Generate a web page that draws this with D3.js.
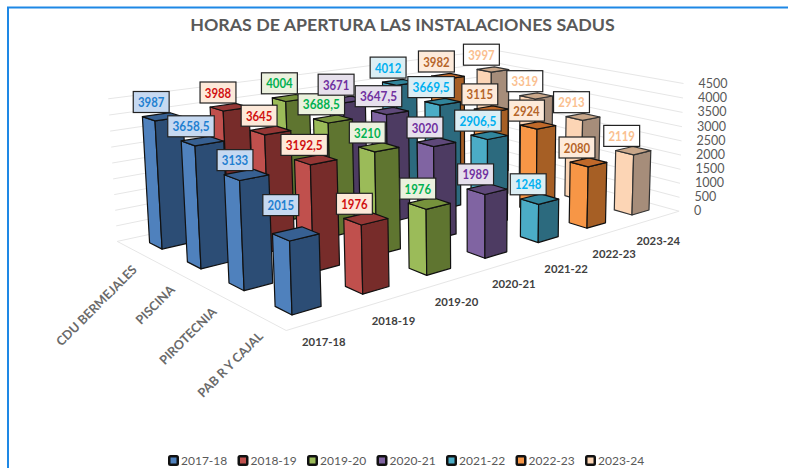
<!DOCTYPE html>
<html><head><meta charset="utf-8">
<script src="https://cdn.jsdelivr.net/npm/d3@7"></script>
<style>html,body{margin:0;padding:0;background:#fff}svg{display:block}text{font-family:Lato,"Open Sans",sans-serif}</style>
</head><body><svg id="c" width="788" height="468"></svg>
<script>
const title = "HORAS DE APERTURA LAS INSTALACIONES SADUS";
const seasons = ["2017-18","2018-19","2019-20","2020-21","2021-22","2022-23","2023-24"];
const venues = ["CDU BERMEJALES","PISCINA","PIROTECNIA","PAB R Y CAJAL"];
const v2017 = [3987,3658.5,3133,2015];
const v2018 = [3988,3645,3192.5,1976];
const v2019 = [4004,3688.5,3210,1976];
const v2020 = [3671,3647.5,3020,1989];
const v2021 = [4012,3669.5,2906.5,1248];
const v2022 = [3982,3115,2924,2080];
const v2023 = [3997,3319,2913,2119];
const seriesValues = [v2017,v2018,v2019,v2020,v2021,v2022,v2023];
const axisTicks = [0,500,1000,1500,2000,2500,3000,3500,4000,4500];

const leftFace  = ["#4f81bd","#c0504d","#9bbb59","#8064a2","#4bacc6","#f79646","#fcd5b5"];
const rightFace = ["#2c4d75","#772c2a","#5f7530","#4d3b62","#2c6a7e","#a65f25","#a68d7a"];
const topFace   = ["#376092","#953735","#76923c","#5f497a","#31859c","#c0692a","#c9a78a"];
const labelText = ["#1f7fd0","#d01010","#00b050","#7030a0","#00b0f0","#b5652a","#fac090"];
const labelFill = ["#c6d9f1","#fde9d9","#ebf1de","#e6e0ec","#dbeef4","#fdeada","#ffffff"];
const edgeColor = ["#111","#111","#111","#111","#111","#111","#333"];

// scales into floor/height units
const sx = d3.scalePoint().domain(seasons).range([0,6]);
const qx = d3.scalePoint().domain(venues).range([3,0]);
const zx = d3.scaleLinear().domain([0,1]).range([0,-6.38e-6]);
const barW = 0.4, barD = 0.34, sMin=-0.3, sMax=6.7, qMin=-0.33, qMax=3.67;

// perspective camera
const O=[292,315], Vs=[1721.8,-105.5], Vq=[-617,-146], Vz=[480,6000];
const as=0.052, aq=0.0556;
function P(s,q,val){
  const bs=s*as, bq=q*aq, bz=zx(val);
  const w=1+bs+bq+bz;
  return [(O[0]+bs*Vs[0]+bq*Vq[0]+bz*Vz[0])/w,(O[1]+bs*Vs[1]+bq*Vq[1]+bz*Vz[1])/w];
}
const svg=d3.select("#c");
const poly=pts=>pts.map(p=>p.map(n=>n.toFixed(1)).join(",")).join(" ");

// frame (open on the right and bottom)
svg.append("path").attr("d","M8,468V7.5H788").attr("fill","none").attr("stroke","#1e88e5").attr("stroke-width",2);

svg.append("text").attr("x",402.5).attr("y",31).attr("text-anchor","middle").attr("font-size",17.8).attr("font-weight",700).attr("fill","#595959").text(title);

// walls + floor
const grid=svg.append("g").attr("fill","none").attr("stroke","#e6e6e6").attr("stroke-width",1);
axisTicks.forEach(t=>{
  grid.append("polyline").attr("points",poly([P(sMin,qMax,t),P(sMax,qMax,t),P(sMax,qMin,t)]));
});
grid.append("polyline").attr("points",poly([P(sMin,qMax,0),P(sMin,qMin,0),P(sMax,qMin,0)]));

// axis labels
axisTicks.forEach(t=>{
  const p=P(sMax,qMin,t);
  svg.append("text").attr("x",p[0]+15).attr("y",p[1]+4).attr("font-size",12.5).attr("fill","#595959").text(t);
});

// bars back to front
const cells=[];
seasons.forEach((se,i)=>venues.forEach((ve,j)=>cells.push({se,ve,i,v:seriesValues[i][j]})));
cells.sort((a,b)=>(sx(b.se)+qx(b.ve))-(sx(a.se)+qx(a.ve)));
const bars=svg.append("g").attr("stroke-linejoin","round").attr("stroke-width",1.2);
cells.forEach(d=>{
  const s=sx(d.se), q=qx(d.ve), v=d.v;
  const g=bars.append("g").attr("stroke",edgeColor[d.i]);
  g.append("polygon").attr("fill",leftFace[d.i]).attr("points",poly([P(s,q,0),P(s,q+barD,0),P(s,q+barD,v),P(s,q,v)]));
  g.append("polygon").attr("fill",rightFace[d.i]).attr("points",poly([P(s,q,0),P(s+barW,q,0),P(s+barW,q,v),P(s,q,v)]));
  g.append("polygon").attr("fill",topFace[d.i]).attr("points",poly([P(s,q,v),P(s+barW,q,v),P(s+barW,q+barD,v),P(s,q+barD,v)]));
});

// value labels
const fmt=v=>String(v).replace(".",",");
const lab=svg.append("g");
seasons.forEach((se,i)=>venues.forEach((ve,j)=>{
  const v=seriesValues[i][j];
  const c=P(sx(se)+barW/2,qx(ve)+barD/2,v);
  const raised = i===0 && j===3;          // this one label sits higher in the chart
  const dx = raised ? -15 : -11.5, dy = raised ? -28.7 : -14.7;
  const g=lab.append("g").attr("transform",`translate(${(c[0]+dx).toFixed(1)},${(c[1]+dy).toFixed(1)})`);
  const s=fmt(v);
  const len=s.replace(",","").length*6.6+(s.includes(",")?4:0);
  const w=len+9.5;
  g.append("rect").attr("x",-w/2).attr("y",-10.5).attr("width",w).attr("height",21).attr("fill",labelFill[i]).attr("stroke","#222").attr("stroke-width",1.2);
  g.append("text").attr("text-anchor","middle").attr("y",5).attr("font-size",14).attr("font-weight",700).attr("fill",labelText[i]).attr("textLength",len).attr("lengthAdjust","spacingAndGlyphs").text(s);
}));

// season labels
seasons.forEach(se=>{
  const p=P(sx(se)+barW/2,qMin,0);
  svg.append("text").attr("x",p[0]).attr("y",p[1]+27).attr("text-anchor","middle").attr("font-size",11.3).attr("font-weight",700).attr("fill","#404040").text(se);
});
// venue labels
venues.forEach(ve=>{
  const p=P(sMin,qx(ve)+barD/2,0);
  svg.append("text").attr("transform",`translate(${(p[0]+3).toFixed(1)},${(p[1]+20).toFixed(1)}) rotate(-45)`).attr("text-anchor","end").attr("font-size",12.6).attr("font-weight",700).attr("fill","#6a6a6a").text(ve);
});
// legend
const lx=d3.scalePoint().domain(seasons).range([168,585]);
seasons.forEach((se,i)=>{
  const x=lx(se);
  svg.append("rect").attr("x",x).attr("y",455).attr("width",11).attr("height",11).attr("rx",2.5).attr("fill","#111");
  svg.append("rect").attr("x",x+2.5).attr("y",457.5).attr("width",6).attr("height",6).attr("fill",leftFace[i]);
  svg.append("text").attr("x",x+13).attr("y",464.5).attr("font-size",12).attr("fill","#595959").text(se);
});
</script></body></html>
